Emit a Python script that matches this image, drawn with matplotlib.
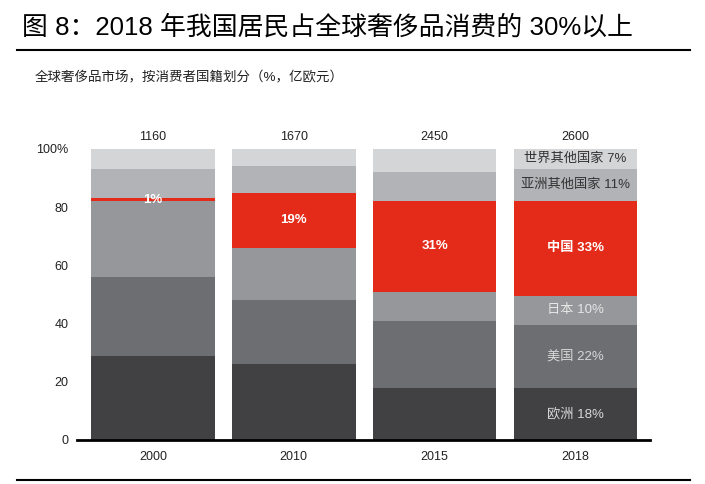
import matplotlib
matplotlib.use('Agg')
import matplotlib.pyplot as plt
from matplotlib.lines import Line2D
import numpy as np

# Arial-like digits, CJK falls back to Noto
plt.rcParams['font.family'] = ['Liberation Sans', 'Noto Sans CJK SC', 'DejaVu Sans']

# data (share of global luxury spending, %)
years = ['2000', '2010', '2015', '2018']
totals = [1160, 1670, 2450, 2600]  # 亿欧元
regions = ['欧洲', '美国', '日本', '中国', '亚洲其他国家', '世界其他国家']
europe = [29, 26, 18, 18]
usa = [27, 22, 23, 22]
japan = [26, 18, 10, 10]
china = [1, 19, 31, 33]
asia_other = [10, 9, 10, 11]
world_other = [7, 6, 8, 7]

series = [europe, usa, japan, china, asia_other, world_other]
colors = ['#414143', '#6d6e71', '#96979a', '#e42b19', '#b2b3b6', '#d4d5d7']
label_colors = ['#d8d8d8', '#d8d8d8', '#e6e6e6', 'white', '#333333', '#333333']

fig = plt.figure(figsize=(7.05, 4.84), dpi=100)
ax = fig.add_axes([77 / 705, 1 - 440 / 484, (650 - 77) / 705, (440 - 149) / 484])

x = np.arange(len(years))
vals = np.array(series, dtype=float)
shares = vals / vals.sum(axis=0) * 100  # bars are drawn to 100%
bottom = np.zeros(len(years))
for i, (name, row) in enumerate(zip(regions, shares)):
    ax.bar(x, row, bottom=bottom, width=0.878, color=colors[i], edgecolor='none')
    for j in range(len(years)):
        mid = bottom[j] + row[j] / 2
        raw = series[i][j]
        if j == len(years) - 1:
            ax.text(x[j], mid, f'{name} {raw}%', ha='center', va='center',
                    fontsize=9.5, color=label_colors[i],
                    fontweight='bold' if name == '中国' else 'normal')
        elif name == '中国':
            ax.text(x[j], mid, f'{raw}%', ha='center', va='center',
                    fontsize=9.5, color='white', fontweight='bold')
    bottom += row

for j, t in enumerate(totals):
    ax.text(x[j], 104, str(t), ha='center', va='center', fontsize=9, color='#222222')

ax.set_xlim(-0.54, 3.53)
ax.set_ylim(0, 100)
ax.set_xticks(x)
ax.set_xticklabels(years, fontsize=9, color='#222222')
ax.set_yticks([0, 20, 40, 60, 80, 100])
ax.set_yticklabels(['0', '20', '40', '60', '80', '100%'], fontsize=9, color='#222222')
ax.tick_params(length=0)
ax.tick_params(axis='y', pad=6)
ax.tick_params(axis='x', pad=8)
for s in ['top', 'right', 'left']:
    ax.spines[s].set_visible(False)
ax.spines['bottom'].set_linewidth(2)
ax.spines['bottom'].set_color('black')

fig.text(22 / 705, 1 - 27 / 484, '图 8：2018 年我国居民占全球奢侈品消费的 30%以上',
         fontsize=18.6, va='center', ha='left', color='black')
fig.text(35 / 705, 1 - 78 / 484, '全球奢侈品市场，按消费者国籍划分（%，亿欧元）',
         fontsize=9.7, va='center', ha='left', color='#222222')
fig.add_artist(Line2D([17 / 705, 690 / 705], [1 - 50 / 484] * 2,
                      transform=fig.transFigure, color='black', lw=1.5))
fig.add_artist(Line2D([17 / 705, 690 / 705], [1 - 480 / 484] * 2,
                      transform=fig.transFigure, color='black', lw=1.5))

fig.savefig('out.png', dpi=100)
